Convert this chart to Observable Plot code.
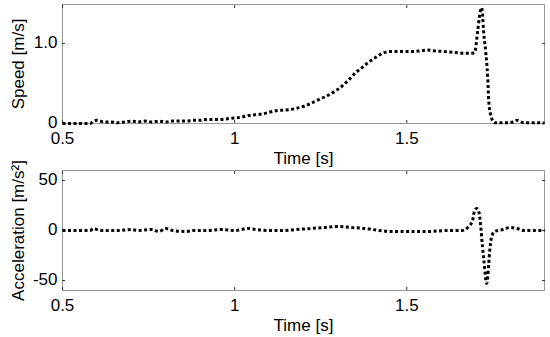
<!DOCTYPE html>
<html><head><meta charset="utf-8">
<script src="https://cdn.jsdelivr.net/npm/d3@7"></script>
<script src="https://cdn.jsdelivr.net/npm/@observablehq/plot@0.6"></script>
<style>
html,body{margin:0;padding:0;background:#fff;}
#chart{width:550px;height:337px;font-family:"Liberation Sans",Arial,sans-serif;}
#chart svg{display:block;overflow:visible;}
</style></head>
<body><div id="chart"></div>
<script>
const speedTime = [0.50,0.52,0.55,0.58,0.59,0.60,0.62,0.64,0.66,0.68,0.70,0.72,0.74,0.76,0.78,0.80,0.82,0.84,0.86,0.88,0.90,0.92,0.94,0.96,0.98,1.00,1.02,1.04,1.06,1.08,1.10,1.12,1.15,1.18,1.21,1.24,1.27,1.29,1.31,1.33,1.35,1.37,1.39,1.41,1.43,1.45,1.48,1.51,1.54,1.56,1.58,1.61,1.64,1.67,1.69,1.697,1.706,1.712,1.717,1.720,1.723,1.729,1.735,1.738,1.743,1.755,1.79,1.81,1.82,1.84,1.87,1.90];
const speedValues = [0,0,0,0,0.03,0.04,0.02,0.02,0.01,0.02,0.03,0.02,0.03,0.02,0.03,0.02,0.03,0.03,0.03,0.04,0.04,0.05,0.05,0.05,0.06,0.07,0.08,0.10,0.11,0.12,0.14,0.16,0.17,0.19,0.23,0.29,0.35,0.40,0.46,0.54,0.63,0.70,0.77,0.83,0.88,0.90,0.90,0.90,0.91,0.92,0.91,0.90,0.89,0.88,0.88,0.89,1.16,1.37,1.45,1.37,1.16,0.91,0.58,0.29,0.12,0.01,0.01,0.02,0.04,0.01,0.01,0.005];
const accTime = [0.50,0.58,0.59,0.60,0.62,0.66,0.70,0.72,0.76,0.78,0.80,0.82,0.86,0.88,0.92,0.96,1.00,1.02,1.04,1.06,1.10,1.14,1.18,1.22,1.26,1.30,1.34,1.38,1.42,1.46,1.50,1.56,1.62,1.66,1.677,1.691,1.697,1.703,1.709,1.714,1.720,1.726,1.729,1.732,1.735,1.738,1.741,1.746,1.755,1.78,1.80,1.82,1.84,1.90];
const accValues = [0,0,2,1,0,0,1,0,1,-1,2,0,-1,0,0,1,0,1,2,1,0,0,1,2,3,4,3,2,0,-1,-1,-1,0,0,3,10,20,22,19,7,-17,-37,-48,-53,-47,-33,-20,-7,-1,1,3,2,0,0];
const xTicks = [0.5, 1, 1.5];
const xTickLabels = ["0.5", "1", "1.5"];
const speedTicks = [0, 1];
const speedTickLabels = ["0", "1.0"];
const accTicks = [-50, 0, 50];
const accTickLabels = ["-50", "0", "50"];

const speed = speedTime.map((t, i) => ({t, v: speedValues[i]}));
const acc = accTime.map((t, i) => ({t, v: accValues[i]}));

function panel(data, yDomain, yTicks, yLabels, yLabel, height, marginTop, marginBottom) {
  const fmtX = d => xTickLabels[xTicks.indexOf(d)];
  const fmtY = d => yLabels[yTicks.indexOf(d)];
  return Plot.plot({
    width: 550, height, marginLeft: 62, marginRight: 6, marginTop, marginBottom,
    style: {fontFamily: '"Liberation Sans", Arial, sans-serif', fontSize: "17px", color: "#000", background: "#fff", overflow: "visible"},
    x: {domain: [0.5, 1.9]},
    y: {domain: yDomain},
    marks: [
      Plot.frame({stroke: "#999"}),
      Plot.axisX({ticks: xTicks, tickFormat: fmtX, tickSize: 0, tickPadding: 8, label: "Time [s]", labelAnchor: "center", labelOffset: 40, labelArrow: "none"}),
      Plot.axisX({ticks: xTicks, tickFormat: () => "", tickSize: -3, label: null, stroke: "#333"}),
      Plot.axisX({anchor: "top", ticks: xTicks, tickFormat: () => "", tickSize: -3, label: null, stroke: "#333"}),
      Plot.axisY({ticks: yTicks, tickFormat: fmtY, tickSize: 0, tickPadding: 5, dy: -1, label: yLabel, labelAnchor: "center", labelOffset: 51, labelArrow: "none"}),
      Plot.axisY({ticks: yTicks, tickFormat: () => "", tickSize: -3, label: null, stroke: "#333"}),
      Plot.axisY({anchor: "right", ticks: yTicks, tickFormat: () => "", tickSize: -3, label: null, stroke: "#333"}),
      Plot.line(data, {x: "t", y: "v", stroke: "#000", strokeWidth: 3, strokeDasharray: "3,2.5", strokeLinecap: "butt", strokeLinejoin: "miter", curve: "monotone-x"})
    ]
  });
}

const chart = document.getElementById("chart");
chart.append(panel(speed, [0, 1.49], speedTicks, speedTickLabels, "Speed [m/s]", 168, 4, 45));
chart.append(panel(acc, [-60, 60], accTicks, accTickLabels, "Acceleration [m/s²]", 169, 2, 47));
</script></body></html>
